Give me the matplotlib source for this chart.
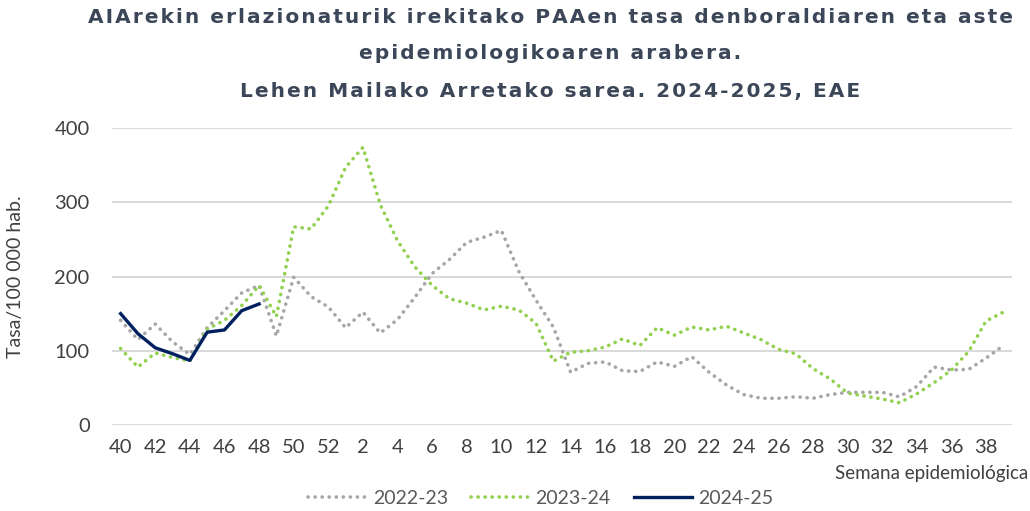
import matplotlib
matplotlib.use("Agg")
import matplotlib.pyplot as plt

# astea (40..52, 1..39)
weeks = list(range(40, 53)) + list(range(1, 40))

s2022 = [141, 115, 136, 112, 95, 131, 154, 178, 188, 120, 199, 173, 159, 131, 152, 124,
         142, 172, 204, 223, 246, 253, 262, 207, 168, 132, 71, 83, 85, 73, 72, 85,
         79, 92, 71, 54, 41, 36, 36, 38, 36, 41, 44, 44, 44, 38, 52, 78, 74, 75, 90, 107]
s2023 = [103, 78, 97, 91, 86, 129, 141, 161, 188, 146, 267, 264, 295, 347, 374, 297,
         248, 213, 188, 170, 164, 155, 160, 155, 137, 86, 98, 100, 105, 116, 107, 131,
         121, 132, 128, 133, 124, 115, 102, 96, 76, 62, 43, 39, 35, 30, 42, 57, 74, 99, 140, 152]
s2024 = [150, 123, 104, 96, 87, 125, 128, 154, 163]

tick_labels = [str(w) for w in weeks[::2]]

title_lines = ["AIArekin erlazionaturik irekitako PAAen tasa denboraldiaren eta aste",
               "epidemiologikoaren arabera.",
               "Lehen Mailako Arretako sarea. 2024-2025, EAE"]

txt = "#3B4658"
fnt = "Lato"


def spaced(s):
    # hizkien arteko tartea (letter spacing)
    return "\u200a".join(s)


fig = plt.figure(figsize=(10.3, 5.11), dpi=100)
ax = fig.add_axes([0.1087, 0.1683, 0.8738, 0.5812])

x = list(range(len(weeks)))
ax.plot(x, s2022, color="#A6A6A6", lw=2.6, ls=(0, (0.05, 1.9)),
        dash_capstyle="round", label="2022-23")
ax.plot(x, s2023, color="#92D050", lw=2.6, ls=(0, (0.05, 1.9)),
        dash_capstyle="round", label="2023-24")
ax.plot(x[:len(s2024)], s2024, color="#002060", lw=2.4, label="2024-25")

ax.set_xlim(-0.5, len(weeks) - 0.5)
ax.set_ylim(0, 400)
ax.set_yticks([0, 100, 200, 300, 400])
ax.set_xticks(x[::2])
ax.set_xticklabels(tick_labels)
ax.grid(axis="y", color="#D9D9D9", lw=1.4)
ax.set_axisbelow(True)
for sp in ax.spines.values():
    sp.set_visible(False)
ax.tick_params(length=0, labelsize=14.5, labelcolor="#404040")
ax.tick_params(axis="y", pad=16)
ax.tick_params(axis="x", pad=10)
for lab in ax.get_xticklabels() + ax.get_yticklabels():
    lab.set_fontfamily(fnt)

ax.set_ylabel("Tasa/100 000 hab.", fontsize=14, color="#404040", family=fnt, labelpad=22)
fig.text(0.998, 0.062, "Semana epidemiológica", ha="right", fontsize=13.5,
         color="#404040", family=fnt)

ys = [0.965, 0.895, 0.82]
for line, yy in zip(title_lines, ys):
    fig.text(0.534, yy, spaced(line), ha="center", va="center", fontsize=14.5,
             fontweight="bold", color=txt, family="DejaVu Sans")

leg = fig.legend(loc="lower center", bbox_to_anchor=(0.525, -0.027), ncol=3, frameon=False,
                 handlelength=3.0, columnspacing=1.2, handletextpad=0.3,
                 prop={"family": fnt, "size": 14})
for t in leg.get_texts():
    t.set_color("#595959")

fig.savefig("out.png", dpi=100)
